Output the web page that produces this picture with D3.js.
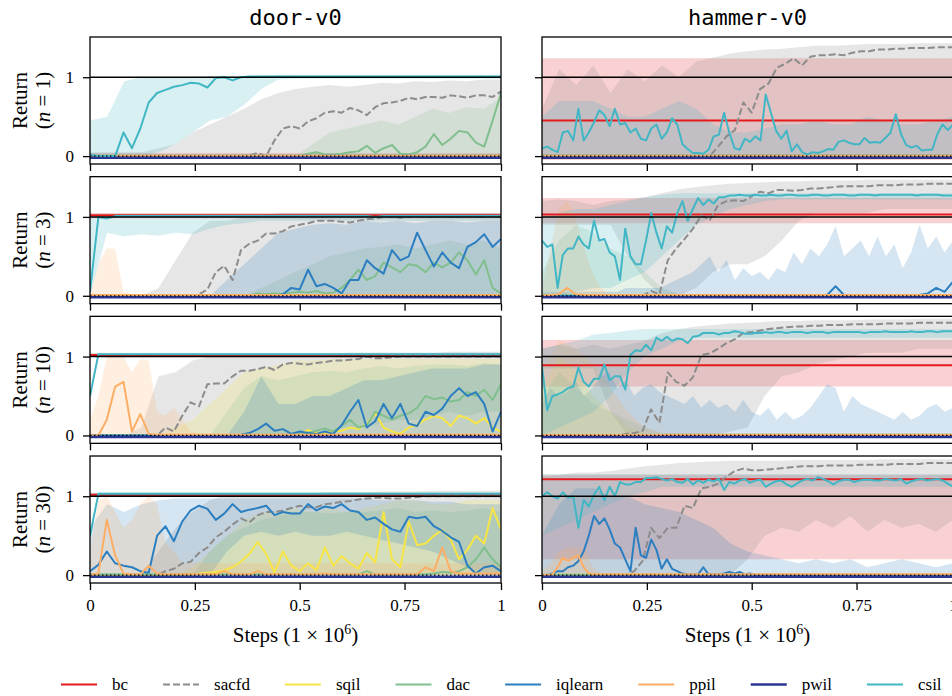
<!DOCTYPE html>
<html>
<head>
<meta charset="utf-8">
<script src="https://cdn.jsdelivr.net/npm/d3@7"></script>
<style>
body { margin: 0; background: #fff; }
text { font-family: "Liberation Serif", "DejaVu Serif", serif; fill: #000; }
</style>
</head>
<body>
<div id="chart"></div>
<script>
// categories and ticks
var methods = ["bc", "sacfd", "sqil", "dac", "iqlearn", "ppil", "pwil", "csil"];
var methodColors = ["#e41a1c", "#8c8c8c", "#f7e545", "#81bf8e", "#2b7fc0", "#fdae66", "#283593", "#41b6c4"];
var envs = ["door-v0", "hammer-v0"];
var demos = [1, 3, 10, 30];
var stepMax = 0.98;   // last evaluation step, in millions (labelled "1")
var xTickValues = [0, 0.25, 0.5, 0.75, 0.98];
var xTickLabels = ["0", "0.25", "0.5", "0.75", "1"];
var yTickValues = [0, 1];
var zero = [0];

// every array below is spread evenly over [0, stepMax]; a single value means constant

// ---- door-v0, n = 1
var door1_bc = [0.0], door1_bc_lo = [-0.02], door1_bc_hi = [0.04];
var door1_csil = [0.02,0,0,0,0.3,0.1,0.35,0.68,0.8,0.84,
  0.88,0.9,0.93,0.92,0.87,0.99,1,0.96,1,1.01,
  1.01,1.01,1.01,1.01,1.01,1.01,1.01,1.01,1.01,1.01,
  1.01,1.01,1.01,1.01,1.01,1.01,1.01,1.01,1.01,1.01,
  1.01,1.01,1.01,1.01,1.01,1.01,1.01,1.01,1.01,1.01];
var door1_csil_lo = [0,0,0,0,0.05,0.15,0.3,0.45,0.5,0.65,0.85,0.97,0.98,0.98,0.98,0.98,0.98,0.98,0.98,0.98,0.98,0.98,0.98,0.98,0.98];
var door1_csil_hi = [0.45,0.5,0.95,1,1,1,1,1.02,1.02,1.02,1.02,1.03,1.03,1.03,1.03,1.03,1.03,1.03,1.03,1.03,1.03,1.03,1.03,1.03,1.03];
var door1_sacfd = [0,0,0,0,0,0,0,0,0,0,
  0,0,0,0,0,0,0,0,0,0.01,
  0.04,0,0.2,0.35,0.38,0.35,0.44,0.48,0.55,0.57,
  0.55,0.61,0.58,0.52,0.62,0.67,0.68,0.7,0.74,0.72,
  0.75,0.75,0.74,0.77,0.76,0.74,0.77,0.77,0.75,0.82];
var door1_sacfd_hi = [0.05,0.05,0.05,0.05,0.1,0.15,0.3,0.4,0.5,0.6,0.72,0.8,0.85,0.88,0.9,0.88,0.9,0.93,0.92,0.95,0.94,0.96,0.95,0.97,0.97];
var door1_dac = [0,0,0,0,0,0,0,0,0,0,
  0,0,0,0,0,0,0,0,0,0,
  0,0,0,0,0,0,0.03,0.05,0.02,0.02,
  0.03,0.05,0.06,0.13,0.04,0.1,0.14,0.03,0.02,0.05,
  0.12,0.28,0.14,0.22,0.32,0.3,0.17,0.12,0.45,0.8];
var door1_dac_hi = [0,0,0,0,0,0,0,0,0,0,0,0,0,0.15,0.3,0.35,0.4,0.45,0.4,0.5,0.6,0.55,0.62,0.6,0.75];

// ---- door-v0, n = 3
var door3_bc = [1.02], door3_bc_lo = [0.98], door3_bc_hi = [1.05];
var door3_csil = [0.05,1,0.98,1.01,1.01,1.01,1.01,1.01,1.01,1.01,
  1.01,1.01,1.01,1.01,1.01,1.01,1.01,1.01,1.01,1.01,
  1.01,1.01,1.01,1.01,1.01,1.01,1.01,1.01,1.01,1.01,
  1.01,1.01,1.01,1.01,1.0,1.01,1.01,1.01,1.01,1.01,
  1.01,1.01,1.01,1.01,1.01,1.01,1.01,1.01,1.01,1.01];
var door3_csil_lo = [0,0.8,0.75,0.78,0.76,0.8,0.78,0.85,0.9,0.92,0.95,0.95,0.95,0.95,0.95,0.95,0.95,0.95,0.95,0.95,0.95,0.95,0.95,0.95,0.95];
var door3_csil_hi = [1.04];
var door3_ppil = [0.01];
var door3_ppil_hi = [0.02,0.4,0.6,0.6,0.05,0.02,0.02,0.02,0.02,0.02,
  0.02,0.02,0.02,0.02,0.02,0.02,0.02,0.02,0.02,0.02,
  0.02,0.02,0.02,0.02,0.02,0.02,0.02,0.02,0.02,0.02,
  0.02,0.02,0.02,0.02,0.02,0.02,0.02,0.02,0.02,0.02,
  0.02,0.02,0.02,0.02,0.02,0.02,0.02,0.02,0.02,0.02];
var door3_sacfd = [0,0,0,0,0,0,0,0,0,0,
  0,0,0,0.02,0.08,0.3,0.38,0.2,0.58,0.66,
  0.7,0.79,0.79,0.82,0.88,0.9,0.92,0.95,0.95,0.95,
  0.94,0.93,0.95,0.97,0.98,1,1,0.99,1,1.01,
  1,1,1.01,1,1,1.01,1,1,1.01,1];
var door3_sacfd_hi = [0,0,0,0,0.1,0.45,0.8,0.95,0.95,1,1.02,1.05,1.05,1.05,1.05,1.05,1.05,1.05,1.05,1.05,1.05,1.05,1.05,1.05,1.05];
var door3_iqlearn = [0,0,0,0,0,0,0,0,0,0,
  0,0,0,0,0,0,0,0,0,0,
  0,0,0,0.02,0.1,0.08,0.33,0.12,0.15,0.1,
  0.03,0.2,0.2,0.45,0.35,0.28,0.58,0.45,0.5,0.8,
  0.58,0.37,0.55,0.42,0.35,0.62,0.68,0.78,0.62,0.72];
var door3_iqlearn_hi = [0,0,0,0,0,0,0,0,0.2,0.4,0.6,0.8,0.85,0.9,0.92,0.9,0.95,0.93,0.95,0.92,0.95,0.95,0.93,0.95,0.95];
var door3_dac = [0,0,0,0,0,0,0,0,0,0,
  0,0,0,0,0,0,0,0,0,0,
  0.03,0.02,0.03,0.02,0.04,0.05,0.04,0.06,0.03,0.04,
  0.1,0.2,0.33,0.2,0.25,0.42,0.36,0.3,0.4,0.38,
  0.3,0.42,0.36,0.42,0.55,0.45,0.27,0.45,0.1,0.03];
var door3_dac_hi = [0,0,0,0,0,0,0,0,0,0,0.1,0.2,0.3,0.4,0.5,0.55,0.6,0.62,0.65,0.6,0.65,0.7,0.65,0.7,0.6];

// ---- door-v0, n = 10
var door10_bc = [1.02], door10_bc_lo = [1.0], door10_bc_hi = [1.04];
var door10_csil = [0.5,1.03,1.03,1.03,1.03,1.03,1.03,1.03,1.03,1.03,
  1.03,1.03,1.03,1.03,1.03,1.03,1.03,1.03,1.03,1.03,
  1.03,1.03,1.03,1.03,1.03,1.03,1.03,1.03,1.03,1.03,
  1.03,1.03,1.03,1.03,1.03,1.03,1.03,1.03,1.03,1.03,
  1.03,1.03,1.03,1.03,1.03,1.03,1.03,1.03,1.03,1.03];
var door10_csil_lo = [0.99], door10_csil_hi = [1.05];
var door10_ppil = [0,0,0.2,0.62,0.68,0.05,0.27,0.02,0.01,0.01,
  0.01,0.01,0.01,0.01,0.01,0.01,0.01,0.01,0.01,0.01,
  0.01,0.01,0.01,0.01,0.01,0.01,0.01,0.01,0.01,0.01,
  0.01,0.01,0.01,0.01,0.01,0.01,0.01,0.01,0.01,0.01,
  0.01,0.01,0.01,0.01,0.01,0.01,0.01,0.01,0.01,0.01];
var door10_ppil_hi = [0.2,0.5,1,1,1,0.8,0.97,0.95,0.3,0.25,
  0.35,0.2,0.05,0.02,0.02,0.02,0.02,0.02,0.02,0.02,
  0.02,0.02,0.02,0.02,0.02,0.02,0.02,0.02,0.02,0.02,
  0.02,0.02,0.02,0.02,0.02,0.02,0.02,0.02,0.02,0.02,
  0.02,0.02,0.02,0.02,0.02,0.02,0.02,0.02,0.02,0.02];
var door10_sacfd = [0,0,0,0,0,0,0,0,0,0.1,
  0.05,0.25,0.42,0.37,0.65,0.66,0.66,0.75,0.82,0.82,
  0.84,0.87,0.83,0.9,0.92,0.91,0.9,0.92,0.93,0.95,
  0.95,0.96,0.97,1,0.98,0.98,0.99,1,1,1,
  1,1,1,1,1,1,1,1,1,1];
var door10_sacfd_hi = [0,0,0,0.1,0.75,0.8,0.95,1,1,1.02,1.02,1.02,1.02,1.03,1.03,1.05,1.05,1.05,1.05,1.05,1.05,1.06,1.06,1.06,1.06];
var door10_sqil = [0,0,0,0,0,0,0,0,0,0,
  0,0,0,0,0,0,0,0,0,0,
  0,0,0,0,0,0.01,0.07,0.03,0.03,0.05,
  0.06,0.1,0.08,0.15,0.28,0.1,0.05,0.02,0.1,0.14,
  0.2,0.25,0.22,0.12,0.25,0.22,0.15,0.22,0.1,0.05];
var door10_sqil_hi = [0,0,0,0,0,0.1,0.2,0.4,0.6,0.8,0.85,0.9,0.95,0.95,0.97,0.97,0.97,0.97,0.97,0.97,0.97,0.97,0.97,0.97,0.97];
var door10_dac = [0,0,0,0,0,0,0,0,0,0,
  0,0,0,0,0,0,0,0,0,0,
  0.01,0.01,0.01,0.01,0.01,0.02,0.03,0.06,0.09,0.05,
  0.12,0.2,0.1,0.13,0.3,0.25,0.2,0.25,0.28,0.35,
  0.5,0.46,0.48,0.43,0.45,0.55,0.5,0.58,0.45,0.65];
var door10_dac_lo = [0,0,0,0,0,0,0,0,0,0,0,0,0,0,0.05,0.1,0.1,0.15,0.2,0.2,0.25,0.3,0.25,0.3,0.3];
var door10_dac_hi = [0,0,0,0,0,0,0,0,0.3,0.6,0.75,0.7,0.75,0.8,0.82,0.8,0.85,0.88,0.85,0.88,0.9,0.9,0.88,0.92,0.9];
var door10_iqlearn = [0,0,0,0,0,0,0,0,0,0,
  0,0,0,0,0,0,0,0,0.01,0.03,
  0.08,0.15,0.06,0.08,0.02,0.05,0.03,0.02,0.05,0.02,
  0.13,0.3,0.45,0.1,0.18,0.4,0.22,0.4,0.15,0.12,
  0.3,0.26,0.34,0.5,0.6,0.5,0.55,0.4,0.05,0.3];
var door10_iqlearn_hi = [0,0,0,0,0,0,0,0,0,0.3,0.75,0.4,0.4,0.5,0.5,0.6,0.7,0.7,0.75,0.8,0.85,0.85,0.85,0.9,0.9];

// ---- door-v0, n = 30
var door30_bc = [1.02], door30_bc_lo = [1.0], door30_bc_hi = [1.04];
var door30_csil = [0.5,1.03,1.03,1.03,1.03,1.03,1.03,1.03,1.03,1.03,
  1.03,1.03,1.03,1.03,1.03,1.03,1.03,1.03,1.03,1.03,
  1.03,1.03,1.03,1.03,1.03,1.03,1.03,1.03,1.03,1.03,
  1.03,1.03,1.03,1.03,1.03,1.03,1.03,1.03,1.03,1.03,
  1.03,1.03,1.03,1.03,1.03,1.03,1.03,1.03,1.03,1.03];
var door30_csil_lo = [1.0], door30_csil_hi = [1.05];
var door30_ppil = [0,0.02,0.7,0.25,0.02,0.01,0.01,0.12,0.02,0.01,
  0.01,0.01,0.01,0.01,0.01,0.01,0.05,0.01,0.01,0.01,
  0.05,0.01,0.01,0.01,0.01,0.01,0.01,0.01,0.02,0.01,
  0.01,0.01,0.01,0.01,0.01,0.01,0.01,0.01,0.01,0.01,
  0.1,0.05,0.35,0.05,0.02,0.02,0.02,0.02,0.02,0.02];
var door30_ppil_hi = [0.3,0.95,1,0.8,0.6,0.7,0.9,1,0.9,0.4,
  0.3,0.15,0.15,0.15,0.15,0.15,0.15,0.15,0.15,0.15,
  0.15,0.15,0.15,0.15,0.15,0.15,0.15,0.15,0.15,0.15,
  0.15,0.15,0.15,0.15,0.15,0.15,0.15,0.15,0.15,0.15,
  0.15,0.15,0.15,0.15,0.15,0.15,0.15,0.15,0.15,0.15];
var door30_iqlearn = [0.05,0.13,0.3,0.15,0.12,0.1,0.05,0.03,0.5,0.62,
  0.43,0.68,0.82,0.88,0.84,0.7,0.78,0.9,0.8,0.83,
  0.85,0.88,0.76,0.8,0.78,0.78,0.9,0.82,0.87,0.85,
  0.9,0.82,0.8,0.7,0.73,0.65,0.58,0.55,0.74,0.72,
  0.74,0.62,0.56,0.48,0.42,0.12,0.02,0.1,0.12,0.05];
var door30_iqlearn_lo = [0,0,0,0,0,0,0,0,0.3,0.5,0.55,0.5,0.55,0.5,0.5,0.55,0.5,0.45,0.4,0.35,0.3,0.2,0.1,0,0];
var door30_iqlearn_hi = [0.6,0.9,0.8,0.9,0.95,0.97,0.97,0.97,0.97,0.97,0.97,0.97,0.97,0.97,0.97,0.97,0.97,0.95,0.95,0.95,0.93,0.93,0.9,0.9,0.9];
var door30_sacfd = [0,0,0,0,0,0,0,0,0,0.05,
  0.08,0.15,0.17,0.28,0.35,0.48,0.55,0.64,0.72,0.67,
  0.76,0.8,0.8,0.82,0.85,0.88,0.86,0.86,0.9,0.91,
  0.93,0.94,0.96,0.97,0.98,0.98,0.97,0.97,0.98,0.99,
  1,1,1,1,1,1,1,1,1,1];
var door30_sacfd_hi = [0,0,0,0,0.3,0.6,0.8,0.95,1.02,1.02,1.03,1.03,1.04,1.04,1.05,1.05,1.05,1.06,1.06,1.06,1.07,1.07,1.07,1.07,1.07];
var door30_sqil = [0,0,0,0,0,0,0,0,0,0,
  0,0,0,0.02,0.03,0.04,0.06,0.1,0.17,0.27,
  0.42,0.27,0.03,0.3,0.12,0.05,0.15,0.06,0.35,0.12,
  0.24,0.15,0.08,0.28,0.16,0.8,0.2,0.1,0.68,0.38,
  0.4,0.5,0.57,0.45,0.2,0.32,0.5,0.4,0.85,0.58];
var door30_sqil_hi = [0,0,0,0,0,0,0.1,0.3,0.5,0.7,0.8,0.8,0.85,0.8,0.85,0.8,0.85,0.9,0.95,0.95,0.9,0.9,0.95,0.95,0.95];
var door30_dac = [0.01,0.01,0.01,0.01,0.01,0.01,0.01,0.01,0.01,0.01,
  0.01,0.01,0.01,0.01,0.01,0.01,0.01,0.01,0.01,0.01,
  0.01,0.01,0.01,0.01,0.01,0.01,0.01,0.01,0.01,0.01,
  0.01,0.01,0.01,0.05,0.01,0.01,0.01,0.01,0.01,0.01,
  0.01,0.02,0.04,0.03,0.05,0.1,0.2,0.35,0.2,0.1];
var door30_dac_hi = [0,0,0,0,0,0,0,0.3,0.5,0.6,0.7,0.75,0.8,0.8,0.78,0.8,0.8,0.82,0.85,0.8,0.82,0.8,0.82,0.85,0.8];

// ---- hammer-v0, n = 1
var hammer1_bc = [0.45], hammer1_bc_lo = [-0.05], hammer1_bc_hi = [1.24];
var hammer1_sacfd = [0,0,0,0,0,0,0,0,0,0,
  0,0,0,0,0,0,0,0,0,0,
  0,0.12,0.25,0.33,0.68,0.55,0.85,0.92,1.12,1.17,
  1.24,1.15,1.26,1.28,1.28,1.29,1.28,1.31,1.33,1.33,
  1.35,1.35,1.36,1.36,1.37,1.37,1.37,1.38,1.38,1.38];
var hammer1_sacfd_hi = [0.6,1.1,0.9,1.15,0.8,1.1,0.95,1.15,1.0,1.2,1.25,1.3,1.33,1.35,1.36,1.38,1.4,1.4,1.41,1.42,1.42,1.42,1.43,1.43,1.43];
var hammer1_csil = [0.1,0.12,0.08,0.05,0.3,0.32,0.2,0.6,0.2,0.3,
  0.43,0.58,0.52,0.38,0.6,0.4,0.42,0.3,0.35,0.22,
  0.2,0.35,0.4,0.22,0.3,0.48,0.4,0.15,0.09,0.04,
  0.04,0.03,0.08,0.25,0.27,0.55,0.3,0.1,0.08,0.22,
  0.18,0.25,0.2,0.78,0.55,0.32,0.22,0.32,0.06,0.15,
  0.05,0.02,0.05,0.04,0.06,0.09,0.08,0.18,0.2,0.17,
  0.15,0.15,0.23,0.17,0.18,0.17,0.23,0.3,0.53,0.28,
  0.14,0.11,0.13,0.07,0.08,0.08,0.28,0.4,0.33,0.4];
var hammer1_csil_hi = [0.5,0.7,0.7,0.7,0.6,0.5,0.5,0.6,0.7,0.6,0.4,0.3,0.3,0.35,0.4,0.4,0.45,0.4,0.4,0.5,0.45,0.4,0.4,0.45,0.5];

// ---- hammer-v0, n = 3
var hammer3_bc = [1.03], hammer3_bc_lo = [0.92], hammer3_bc_hi = [1.24];
var hammer3_sacfd = [0,0,0,0,0,0,0,0,0,0,
  0,0,0,0.06,0.02,0.45,0.6,0.72,0.85,1.02,
  0.96,1.15,1.2,1.21,1.2,1.26,1.32,1.3,1.34,1.34,
  1.33,1.34,1.36,1.36,1.37,1.38,1.39,1.39,1.39,1.39,
  1.4,1.4,1.4,1.41,1.41,1.41,1.42,1.42,1.42,1.42];
var hammer3_sacfd_lo = [0.9,0.9,0.9,0.9,0.9,0.5,0.2,0,0,0.1,0.3,0.4,0.4,0.5,0.7,0.95,1.05,1.05,1.05,1.05,1.1,1.1,1.1,1.1,1.1];
var hammer3_sacfd_hi = [1.2,1.22,1.2,1.15,1.2,1.22,1.25,1.3,1.35,1.38,1.4,1.42,1.43,1.44,1.45,1.45,1.46,1.46,1.46,1.47,1.47,1.47,1.47,1.47,1.47];
var hammer3_csil = [0.7,0.62,0.65,0.1,0.52,0.6,0.6,0.75,0.65,0.6,
  0.95,0.7,0.72,0.55,0.5,0.2,0.85,0.5,0.4,0.4,
  0.7,1.05,0.8,0.6,0.88,0.8,1.05,1.2,0.95,1.1,
  1.24,1.15,1.22,1.17,1.25,1.25,1.27,1.27,1.28,1.27,
  1.27,1.28,1.27,1.27,1.28,1.27,1.27,1.28,1.28,1.27,
  1.27,1.27,1.28,1.28,1.27,1.27,1.28,1.28,1.28,1.27,
  1.27,1.28,1.28,1.28,1.27,1.28,1.28,1.28,1.28,1.28,
  1.28,1.28,1.27,1.28,1.28,1.28,1.28,1.27,1.27,1.27];
var hammer3_csil_lo = [0,0,0.05,0.1,0.1,0.2,0.3,0.5,0.7,0.9,1,1.1,1.15,1.2,1.22,1.22,1.22,1.22,1.22,1.22,1.22,1.22,1.22,1.22,1.22];
var hammer3_csil_hi = [1,1.05,1.1,1.1,1.15,1.2,1.25,1.28,1.3,1.3,1.3,1.3,1.3,1.3,1.3,1.3,1.3,1.3,1.3,1.3,1.3,1.3,1.3,1.3,1.3];
var hammer3_iqlearn = [0,0,0,0,0,0,0,0,0,0,
  0,0,0,0,0,0,0,0,0,0,
  0,0,0,0,0,0,0,0,0,0,
  0,0,0,0,0.01,0.12,0.01,0.01,0.01,0.01,
  0.01,0.01,0.01,0.01,0.01,0.01,0.03,0.1,0.05,0.18];
var hammer3_iqlearn_hi = [0.05,0.05,0.05,0.05,0.05,0.05,0.05,0.05,0.05,0.05,
  0.1,0.1,0.1,0.1,0.1,0.15,0.2,0.25,0.3,0.4,
  0.5,0.3,0.45,0.2,0.35,0.25,0.3,0.2,0.35,0.3,
  0.55,0.4,0.6,0.5,0.65,0.88,0.5,0.6,0.7,0.5,
  0.75,0.5,0.65,0.35,0.55,0.9,0.6,0.75,0.55,0.7];
var hammer3_ppil = [0,0.01,0.02,0.1,0.02,0.01,0.01,0.01,0.01,0.01,
  0.01,0.01,0.01,0.01,0.01,0.01,0.01,0.01,0.01,0.01,
  0.01,0.01,0.01,0.01,0.01,0.01,0.01,0.01,0.01,0.01,
  0.01,0.01,0.01,0.01,0.01,0.01,0.01,0.01,0.01,0.01,
  0.01,0.01,0.01,0.01,0.01,0.01,0.01,0.01,0.01,0.01];
var hammer3_ppil_hi = [0.1,0.6,1.1,1.2,1,0.6,0.3,0.1,0.03,0.03,
  0.03,0.03,0.03,0.03,0.03,0.03,0.03,0.03,0.03,0.03,
  0.03,0.03,0.03,0.03,0.03,0.03,0.03,0.03,0.03,0.03,
  0.03,0.03,0.03,0.03,0.03,0.03,0.03,0.03,0.03,0.03,
  0.03,0.03,0.03,0.03,0.03,0.03,0.03,0.03,0.03,0.03];
var hammer3_dac_hi = [0.3,0.7,0.9,0.8,0.6,0.5,0.3,0.1,0.02,0.02,0.02,0.02,0.02,0.02,0.02,0.02,0.02,0.02,0.02,0.02,0.02,0.02,0.02,0.02,0.02];

// ---- hammer-v0, n = 10
var hammer10_bc = [0.89], hammer10_bc_lo = [0.62], hammer10_bc_hi = [1.21];
var hammer10_csil = [0.87,0.32,0.5,0.52,0.55,0.6,0.62,0.86,0.68,0.62,
  0.72,0.72,0.9,0.7,0.75,0.75,0.58,1.02,1.08,1.07,
  1.15,1.08,1.24,1.2,1.25,1.2,1.23,1.22,1.17,1.25,
  1.26,1.3,1.3,1.3,1.28,1.3,1.3,1.32,1.31,1.29,
  1.29,1.3,1.3,1.31,1.3,1.31,1.31,1.3,1.31,1.31,
  1.31,1.3,1.31,1.31,1.31,1.3,1.31,1.31,1.31,1.31,
  1.31,1.31,1.3,1.31,1.31,1.31,1.32,1.31,1.31,1.31,
  1.31,1.32,1.31,1.31,1.32,1.32,1.31,1.32,1.32,1.32];
var hammer10_csil_lo = [0,0.1,0.2,0.3,0.5,0.8,1,1.1,1.2,1.24,1.24,1.24,1.24,1.24,1.24,1.24,1.24,1.24,1.24,1.24,1.24,1.24,1.24,1.24,1.24];
var hammer10_csil_hi = [1.1,1.15,1.2,1.28,1.3,1.33,1.35,1.35,1.35,1.35,1.35,1.35,1.35,1.35,1.35,1.35,1.35,1.35,1.35,1.35,1.35,1.35,1.35,1.35,1.35];
var hammer10_sacfd = [0,0,0,0,0,0,0,0,0,0,
  0.02,0.03,0.06,0.33,0.16,0.8,0.68,0.63,0.74,1.02,
  1.04,1.1,1.17,1.22,1.3,1.31,1.33,1.35,1.36,1.37,
  1.38,1.38,1.39,1.39,1.4,1.4,1.4,1.41,1.41,1.41,
  1.41,1.42,1.42,1.42,1.42,1.43,1.43,1.43,1.43,1.43];
var hammer10_sacfd_lo = [0.85,0.85,0.85,0.85,0.3,0,0,0,0,0,0,0.05,0.1,0.5,0.75,0.8,0.9,0.95,1,1.05,1.05,1.05,1.1,1.1,1.1];
var hammer10_sacfd_hi = [1.1,1.15,1.1,1.15,1.1,1.15,1.2,1.3,1.35,1.38,1.4,1.42,1.43,1.44,1.45,1.45,1.46,1.46,1.46,1.47,1.47,1.47,1.48,1.48,1.48];
var hammer10_iqlearn_hi = [0.4,0.6,0.5,0.55,0.7,0.5,0.6,0.75,0.8,0.6,
  0.7,0.5,0.6,0.65,0.55,0.5,0.45,0.4,0.5,0.35,
  0.45,0.35,0.4,0.3,0.45,0.3,0.25,0.35,0.2,0.3,
  0.2,0.25,0.35,0.5,0.65,0.6,0.3,0.5,0.4,0.35,
  0.3,0.25,0.2,0.3,0.2,0.25,0.35,0.4,0.3,0.35];
var hammer10_ppil_hi = [0.8,1.2,1.1,0.9,0.6,0.3,0.1,0.03,0.03,0.03,0.03,0.03,0.03,0.03,0.03,0.03,0.03,0.03,0.03,0.03,0.03,0.03,0.03,0.03,0.03];
var hammer10_dac_hi = [0.5,0.8,0.6,0.4,0.3,0.2,0.1,0.03,0.03,0.03,0.03,0.03,0.03,0.03,0.03,0.03,0.03,0.03,0.03,0.03,0.03,0.03,0.03,0.03,0.03];
var hammer10_sqil_hi = [0.6,1,0.8,0.5,0.3,0.1,0.02,0.02,0.02,0.02,0.02,0.02,0.02,0.02,0.02,0.02,0.02,0.02,0.02,0.02,0.02,0.02,0.02,0.02,0.02];

// ---- hammer-v0, n = 30
var hammer30_bc = [1.215], hammer30_bc_lo = [0.2], hammer30_bc_hi = [1.274];
var hammer30_csil = [1,1.05,1,0.97,1.05,0.98,1,0.6,0.95,0.87,
  1.02,1.12,0.95,1.12,1,1.18,1.15,1.15,1.18,1.18,
  1.23,1.23,1.24,1.22,1.2,1.22,1.18,1.17,1.22,1.15,
  1.2,1.17,1.21,1.19,1.22,1.08,1.18,1.16,1.2,1.22,
  1.17,1.2,1.21,1.12,1.16,1.19,1.2,1.15,1.12,1.16,
  1.2,1.22,1.2,1.24,1.22,1.19,1.15,1.19,1.21,1.21,
  1.18,1.2,1.21,1.21,1.2,1.2,1.22,1.21,1.2,1.22,
  1.16,1.19,1.21,1.22,1.2,1.21,1.22,1.2,1.16,1.12];
var hammer30_csil_lo = [0.5,0.6,0.7,0.8,0.9,1,1.05,1.12,1.12,1.12,1.12,1.12,1.12,1.12,1.12,1.12,1.12,1.12,1.12,1.12,1.12,1.12,1.12,1.12,1.12];
var hammer30_csil_hi = [1.28];
var hammer30_iqlearn = [0,0,0.02,0.05,0.05,0.1,0.12,0.18,0.3,0.5,
  0.75,0.65,0.72,0.58,0.4,0.35,0.2,0.05,0.6,0.25,
  0.22,0.45,0.32,0.08,0.2,0.08,0.05,0.02,0.01,0.01,
  0.01,0.1,0.01,0.01,0.01,0.02,0.04,0.02,0.04,0.01,
  0.02,0,0,0,0,0,0,0,0,0,
  0,0,0,0,0,0,0,0,0,0,
  0,0,0,0,0,0,0,0,0,0,
  0,0,0,0,0,0,0,0,0,0];
var hammer30_iqlearn_hi = [0.5,0.9,1.1,1.1,1,1,0.9,0.85,0.8,0.7,0.6,0.4,0.3,0.25,0.2,0.15,0.2,0.15,0.2,0.1,0.15,0.2,0.15,0.1,0.15];
var hammer30_ppil = [0,0,0.01,0.1,0.22,0.18,0.22,0.25,0.1,0.02,
  0.01,0.01,0.01,0.01,0.01,0.01,0.01,0.01,0.01,0.01,
  0.01,0.01,0.01,0.01,0.01,0.01,0.01,0.01,0.01,0.01,
  0.01,0.01,0.01,0.01,0.01,0.01,0.01,0.01,0.01,0.01,
  0.01,0.01,0.01,0.01,0.01,0.01,0.01,0.01,0.01,0.01,
  0.01,0.01,0.01,0.01,0.01,0.01,0.01,0.01,0.01,0.01,
  0.01,0.01,0.01,0.01,0.01,0.01,0.01,0.01,0.01,0.01,
  0.01,0.01,0.01,0.01,0.01,0.01,0.01,0.01,0.01,0.01];
var hammer30_ppil_hi = [0.05,0.15,0.3,0.35,0.35,0.35,0.1,0.02,0.02,0.02,
  0.02,0.02,0.02,0.02,0.02,0.02,0.02,0.02,0.02,0.02,
  0.02,0.02,0.02,0.02,0.02,0.02,0.02,0.02,0.02,0.02,
  0.02,0.02,0.02,0.02,0.02,0.02,0.02,0.02,0.02,0.02,
  0.02,0.02,0.02,0.02,0.02,0.02,0.02,0.02,0.02,0.02];
var hammer30_sacfd = [0,0,0,0,0,0,0,0,0,0,
  0,0.05,0.18,0.6,0.47,0.6,0.6,0.88,0.85,1.1,
  1.12,1.16,1.25,1.32,1.35,1.33,1.33,1.34,1.35,1.36,
  1.37,1.38,1.38,1.38,1.39,1.39,1.39,1.39,1.4,1.4,
  1.4,1.4,1.41,1.41,1.41,1.41,1.42,1.42,1.42,1.42];
var hammer30_sacfd_lo = [0,0,0,0,0,0,0,0,0,0,0,0,0.2,0.5,0.6,0.55,0.7,0.6,0.75,0.55,0.7,0.6,0.65,0.55,0.7];
var hammer30_sacfd_hi = [1.25,1.27,1.3,1.3,1.32,1.35,1.38,1.4,1.42,1.43,1.44,1.45,1.45,1.45,1.45,1.46,1.46,1.46,1.46,1.46,1.47,1.47,1.47,1.47,1.47];

var pwilLevel = [-0.02];
var flatZero = [0.005];

// table of runs built from the arrays above: [mean, lower, upper]
function run(mean, lo, hi) { return { mean: mean, lo: lo, hi: hi }; }
var runs = {
  "door-v0": {
    1: { bc: run(door1_bc, door1_bc_lo, door1_bc_hi), sacfd: run(door1_sacfd, zero, door1_sacfd_hi),
         dac: run(door1_dac, zero, door1_dac_hi), csil: run(door1_csil, door1_csil_lo, door1_csil_hi) },
    3: { bc: run(door3_bc, door3_bc_lo, door3_bc_hi), sacfd: run(door3_sacfd, zero, door3_sacfd_hi),
         dac: run(door3_dac, zero, door3_dac_hi), iqlearn: run(door3_iqlearn, zero, door3_iqlearn_hi),
         ppil: run(door3_ppil, zero, door3_ppil_hi), csil: run(door3_csil, door3_csil_lo, door3_csil_hi) },
    10: { bc: run(door10_bc, door10_bc_lo, door10_bc_hi), sacfd: run(door10_sacfd, zero, door10_sacfd_hi),
          sqil: run(door10_sqil, zero, door10_sqil_hi), dac: run(door10_dac, door10_dac_lo, door10_dac_hi),
          iqlearn: run(door10_iqlearn, zero, door10_iqlearn_hi), ppil: run(door10_ppil, zero, door10_ppil_hi),
          csil: run(door10_csil, door10_csil_lo, door10_csil_hi) },
    30: { bc: run(door30_bc, door30_bc_lo, door30_bc_hi), sacfd: run(door30_sacfd, zero, door30_sacfd_hi),
          sqil: run(door30_sqil, zero, door30_sqil_hi), dac: run(door30_dac, zero, door30_dac_hi),
          iqlearn: run(door30_iqlearn, door30_iqlearn_lo, door30_iqlearn_hi), ppil: run(door30_ppil, zero, door30_ppil_hi),
          csil: run(door30_csil, door30_csil_lo, door30_csil_hi) }
  },
  "hammer-v0": {
    1: { bc: run(hammer1_bc, hammer1_bc_lo, hammer1_bc_hi), sacfd: run(hammer1_sacfd, zero, hammer1_sacfd_hi),
         csil: run(hammer1_csil, zero, hammer1_csil_hi) },
    3: { bc: run(hammer3_bc, hammer3_bc_lo, hammer3_bc_hi), sacfd: run(hammer3_sacfd, hammer3_sacfd_lo, hammer3_sacfd_hi),
         dac: run(flatZero, zero, hammer3_dac_hi), iqlearn: run(hammer3_iqlearn, zero, hammer3_iqlearn_hi),
         ppil: run(hammer3_ppil, zero, hammer3_ppil_hi), csil: run(hammer3_csil, hammer3_csil_lo, hammer3_csil_hi) },
    10: { bc: run(hammer10_bc, hammer10_bc_lo, hammer10_bc_hi), sacfd: run(hammer10_sacfd, hammer10_sacfd_lo, hammer10_sacfd_hi),
          sqil: run(flatZero, zero, hammer10_sqil_hi), dac: run(flatZero, zero, hammer10_dac_hi),
          iqlearn: run(flatZero, zero, hammer10_iqlearn_hi), ppil: run(flatZero, zero, hammer10_ppil_hi),
          csil: run(hammer10_csil, hammer10_csil_lo, hammer10_csil_hi) },
    30: { bc: run(hammer30_bc, hammer30_bc_lo, hammer30_bc_hi), sacfd: run(hammer30_sacfd, hammer30_sacfd_lo, hammer30_sacfd_hi),
          iqlearn: run(hammer30_iqlearn, zero, hammer30_iqlearn_hi), ppil: run(hammer30_ppil, zero, hammer30_ppil_hi),
          csil: run(hammer30_csil, hammer30_csil_lo, hammer30_csil_hi) }
  }
};

function init() {
  var w = 952, h = 696;
  var colLeft = [90, 542];
  var panelW = 411, panelH = 127;
  var rowTop = 37, rowStep = 139.67;

  var svg = d3.select("#chart").append("svg")
    .attr("width", w).attr("height", h);

  // spread an array evenly across the step range
  function toPoints(arr) {
    if (arr.length === 1) return [[0, arr[0]], [stepMax, arr[0]]];
    return arr.map(function (v, i) { return [i / (arr.length - 1) * stepMax, v]; });
  }

  envs.forEach(function (env, c) {
    // column title
    svg.append("text")
      .attr("x", colLeft[c] + panelW / 2)
      .attr("y", 25)
      .attr("text-anchor", "middle")
      .style("font-family", "'DejaVu Sans Mono', monospace")
      .style("font-size", "22px")
      .text(env);

    demos.forEach(function (n, r) {
      var top = rowTop + r * rowStep;
      var x = d3.scaleLinear().domain([0, stepMax]).range([colLeft[c], colLeft[c] + panelW]);
      var y = d3.scaleLinear().domain([-0.1, 1.51]).range([top + panelH, top]);
      var clipId = "clip-" + c + "-" + r;

      svg.append("clipPath").attr("id", clipId)
        .append("rect")
        .attr("x", colLeft[c]).attr("y", top)
        .attr("width", panelW).attr("height", panelH);

      var g = svg.append("g").attr("clip-path", "url(#" + clipId + ")");
      var line = d3.line().x(function (d) { return x(d[0]); }).y(function (d) { return y(d[1]); });
      var panelRuns = runs[env][n];

      // shaded bands first
      methods.forEach(function (m, k) {
        var rr = panelRuns[m];
        if (!rr || !rr.hi) return;
        var poly = toPoints(rr.hi).concat(toPoints(rr.lo).reverse());
        g.append("path")
          .attr("d", line(poly) + "Z")
          .attr("fill", methodColors[k])
          .attr("fill-opacity", m === "sacfd" ? 0.22 : 0.2)
          .attr("stroke", "none");
      });

      // mean curves
      methods.forEach(function (m, k) {
        var rr = panelRuns[m];
        var mean = rr ? rr.mean : (m === "pwil" ? pwilLevel : flatZero);
        g.append("path")
          .attr("d", line(toPoints(mean)))
          .attr("fill", "none")
          .attr("stroke", methodColors[k])
          .attr("stroke-width", m === "pwil" ? 2.5 : 2)
          .attr("stroke-linejoin", "round")
          .attr("stroke-dasharray", m === "sacfd" ? "7,3" : null);
      });

      // expert (1) and random (0) reference lines
      g.append("line")
        .attr("x1", x(0)).attr("x2", x(stepMax))
        .attr("y1", y(1)).attr("y2", y(1))
        .attr("stroke", "#000").attr("stroke-width", 1.5);
      g.append("line")
        .attr("x1", x(0)).attr("x2", x(stepMax))
        .attr("y1", y(0)).attr("y2", y(0))
        .attr("stroke", "#000").attr("stroke-width", 1.3)
        .attr("stroke-dasharray", "1.5,2.5");

      // frame
      svg.append("rect")
        .attr("x", colLeft[c]).attr("y", top)
        .attr("width", panelW).attr("height", panelH)
        .attr("fill", "none").attr("stroke", "#000").attr("stroke-width", 1.3);

      var xAxis = d3.axisBottom(x)
        .tickValues(xTickValues)
        .tickSize(7).tickPadding(9)
        .tickFormat(function (d, i) { return r === demos.length - 1 ? xTickLabels[i] : ""; });
      var gx = svg.append("g")
        .attr("transform", "translate(0," + (top + panelH) + ")")
        .call(xAxis);
      gx.select(".domain").remove();

      var yAxis = d3.axisLeft(y)
        .tickValues(yTickValues)
        .tickSize(7).tickPadding(9)
        .tickFormat(function (d) { return c === 0 ? String(d) : ""; });
      var gy = svg.append("g")
        .attr("transform", "translate(" + colLeft[c] + ",0)")
        .call(yAxis);
      gy.select(".domain").remove();

      [gx, gy].forEach(function (ax) {
        ax.selectAll("line").attr("stroke", "#000").attr("stroke-width", 1.3);
        ax.selectAll("text")
          .style("font-family", "'Liberation Serif', serif")
          .style("font-size", "17px")
          .attr("fill", "#000");
      });

      // y label, left column only
      if (c === 0) {
        var cy = top + panelH / 2;
        svg.append("text")
          .attr("transform", "translate(27," + cy + ") rotate(-90)")
          .attr("text-anchor", "middle")
          .style("font-size", "21px")
          .text("Return");
        var t2 = svg.append("text")
          .attr("transform", "translate(50," + cy + ") rotate(-90)")
          .attr("text-anchor", "middle")
          .style("font-size", "21px");
        t2.append("tspan").text("(");
        t2.append("tspan").style("font-style", "italic").text("n");
        t2.append("tspan").text(" = " + n + ")");
      }
    });

    // x label
    var xl = svg.append("text")
      .attr("x", colLeft[c] + panelW / 2)
      .attr("y", 642)
      .attr("text-anchor", "middle")
      .style("font-size", "21px");
    xl.append("tspan").text("Steps (1 \u00d7 10");
    xl.append("tspan").attr("dy", -8).style("font-size", "14px").text("6");
    xl.append("tspan").attr("dy", 8).text(")");
  });

  // legend
  var legendY = 684.5;
  var lx = 61;
  methods.forEach(function (m, k) {
    svg.append("line")
      .attr("x1", lx).attr("x2", lx + 36)
      .attr("y1", legendY).attr("y2", legendY)
      .attr("stroke", methodColors[k])
      .attr("stroke-width", m === "pwil" ? 2.5 : 2.2)
      .attr("stroke-dasharray", m === "sacfd" ? "7,3" : null);
    var t = svg.append("text")
      .attr("x", lx + 51)
      .attr("y", legendY)
      .attr("dy", "0.35em")
      .style("font-size", "17px")
      .text(m);
    lx = lx + 51 + t.node().getComputedTextLength() + 35;
  });
}

window.onload = init;
</script>
</body>
</html>
